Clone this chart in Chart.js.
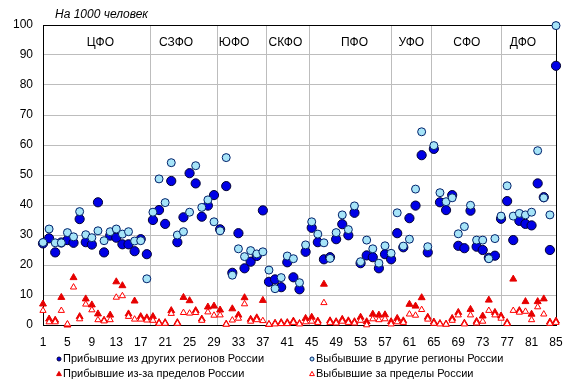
<!DOCTYPE html>
<html>
<head>
<meta charset="utf-8">
<script src="https://cdn.jsdelivr.net/npm/chart.js@4"></script>
<style>
  html, body { margin: 0; padding: 0; background: #fff; }
  #wrap { width: 574px; height: 387px; position: relative; }
</style>
</head>
<body>
<div id="wrap"><canvas id="myChart"></canvas></div>
<script>
// номера регионов по оси X: 1..85
const xTicks = [1, 5, 9, 13, 17, 21, 25, 29, 33, 37, 41, 45, 49, 53, 57, 61, 65, 69, 73, 77, 81, 85];
const yTicks = [0, 10, 20, 30, 40, 50, 60, 70, 80, 90, 100];

const arrivedRussia = [
  27.2, 28.9, 24.2, 27.5, 28.3, 27.4, 35.3, 27.6, 26.8, 40.9,
  24.2, 29.8, 29.1, 26.9, 26.9, 24.6, 28.6, 23.6, 35.0, 38.3,
  33.7, 48.0, 27.6, 35.9, 50.6, 47.2, 36.1, 39.8, 43.3, 31.9,
  46.3, 17.4, 30.6, 18.9, 21.1, 23.0, 38.2, 14.4, 15.2, 12.6,
  20.9, 15.9, 11.9, 24.4, 32.4, 27.6, 21.9, 22.6, 28.6, 33.6,
  29.9, 37.4, 20.6, 23.2, 22.6, 18.9, 23.6, 21.9, 30.6, 25.9,
  35.6, 39.8, 56.6, 24.2, 58.7, 40.9, 38.3, 43.3, 26.4, 25.6,
  38.1, 26.1, 25.0, 22.4, 23.1, 35.4, 41.3, 28.3, 34.7, 33.7,
  33.2, 47.2, 42.6, 25.0, 86.4
];
const leftRussia = [
  27.5, 32.0, 27.4, 27.4, 30.8, 29.4, 37.8, 30.1, 29.1, 31.4,
  28.1, 31.1, 32.0, 30.3, 31.1, 28.0, 28.1, 15.4, 37.6, 48.7,
  40.8, 54.1, 30.0, 31.1, 37.6, 53.1, 39.2, 41.7, 34.4, 31.4,
  55.8, 16.6, 25.4, 22.8, 24.8, 23.7, 24.4, 18.3, 12.1, 15.8,
  23.0, 22.1, 14.1, 26.7, 34.4, 30.3, 27.4, 22.2, 30.8, 36.7,
  31.8, 39.7, 21.1, 28.3, 25.4, 20.6, 26.4, 23.9, 37.4, 26.3,
  28.6, 45.3, 64.4, 26.1, 59.8, 44.1, 41.1, 42.4, 30.4, 32.8,
  39.9, 28.3, 28.3, 22.1, 28.8, 36.3, 46.4, 36.3, 37.2, 36.7,
  37.6, 58.1, 42.4, 36.7, 99.8
];
const arrivedAbroad = [
  7.0, 2.0, 1.6, 9.2, 0.0, 15.8, 2.8, 8.7, 6.7, 3.7,
  1.6, 3.3, 14.4, 13.1, 3.7, 8.0, 2.8, 2.4, 2.8, 0.8,
  0.8, 4.8, 0.8, 9.2, 8.1, 4.8, 2.0, 6.0, 6.3, 5.0,
  0.3, 5.4, 3.3, 9.1, 1.9, 2.4, 8.2, 0.2, 0.6, 0.8,
  0.8, 1.3, 0.5, 2.2, 2.6, 1.3, 13.6, 1.4, 1.1, 1.9,
  1.4, 1.1, 2.6, 1.1, 3.6, 3.3, 3.4, 1.1, 2.2, 1.4,
  6.9, 6.3, 9.1, 2.6, 1.0, 0.5, 0.3, 2.2, 4.2, 0.6,
  5.2, 1.2, 3.0, 8.3, 4.2, 3.0, 0.8, 15.3, 4.8, 7.8,
  3.6, 7.8, 8.7, 1.0, 1.3
];
const leftAbroad = [
  4.8, 1.0, 1.0, 4.8, 0.3, 12.6, 2.0, 6.9, 5.0, 1.7,
  1.3, 1.7, 9.2, 9.7, 2.8, 1.9, 1.9, 1.6, 1.5, 0.5,
  0.5, 3.8, 0.5, 4.1, 3.9, 4.1, 1.5, 4.3, 3.2, 3.3,
  0.2, 1.6, 2.2, 7.0, 1.2, 1.7, 1.4, 0.2, 0.3, 0.4,
  0.4, 0.8, 0.3, 1.0, 1.2, 0.8, 7.4, 0.8, 0.6, 1.2,
  0.8, 0.6, 1.5, 0.0, 2.0, 1.7, 2.0, 0.3, 1.0, 0.8,
  3.6, 3.2, 5.1, 1.9, 0.5, 0.3, 0.2, 1.5, 3.3, 0.3,
  3.3, 0.6, 1.2, 4.8, 3.3, 2.2, 0.4, 4.8, 4.2, 4.5,
  1.7, 6.0, 3.6, 0.5, 0.8
];

// федеральные округа: границы и подписи
const districtNames = ["ЦФО", "СЗФО", "ЮФО", "СКФО", "ПФО", "УФО", "СФО", "ДФО"];
const districtLabelX = [10.4, 22.8, 32.3, 40.7, 52.0, 61.3, 70.4, 79.6];
const districtBounds = [18.5, 29.5, 37.5, 44.5, 58, 64.5, 76];

const toPoints = arr => arr.map((v, i) => ({ x: i + 1, y: v }));

const FONT = '"Liberation Sans", Arial, sans-serif';

const extras = {
  id: "extras",
  beforeDatasetsDraw(chart) {
    const { ctx, chartArea: a, scales: { x, y } } = chart;
    ctx.save();
    ctx.strokeStyle = "#bdbdbd";
    ctx.lineWidth = 1;
    districtBounds.forEach(b => {
      const px = Math.round(x.getPixelForValue(b)) + 0.5;
      ctx.beginPath();
      ctx.moveTo(px, a.top);
      ctx.lineTo(px, a.bottom);
      ctx.stroke();
    });
    ctx.strokeStyle = "#000";
    ctx.strokeRect(Math.round(a.left) + 0.5, Math.round(a.top) + 0.5,
      Math.round(a.right - a.left), Math.round(a.bottom - a.top));
    ctx.fillStyle = "#000";
    ctx.font = "12px " + FONT;
    ctx.textAlign = "center";
    ctx.textBaseline = "middle";
    districtNames.forEach((n, i) => {
      ctx.fillText(n, x.getPixelForValue(districtLabelX[i]), y.getPixelForValue(94));
    });
    ctx.restore();
  },
  afterDraw(chart) {
    const { ctx } = chart;
    ctx.save();
    ctx.fillStyle = "#000";
    ctx.font = "italic 12px " + FONT;
    ctx.textAlign = "left";
    ctx.textBaseline = "middle";
    ctx.fillText("На 1000 человек", 55, 15);

    // легенда 2x2
    const cols = [59, 312], rows = [359, 374];
    const place = [[0, 0], [1, 0], [0, 1], [1, 1]];
    ctx.font = "11px " + FONT;
    chart.data.datasets.forEach((ds, i) => {
      const cx = cols[place[i][0]], cy = rows[place[i][1]];
      ctx.beginPath();
      if (ds.pointStyle === "triangle") {
        ctx.moveTo(cx, cy - 2.6);
        ctx.lineTo(cx + 2.4, cy + 1.6);
        ctx.lineTo(cx - 2.4, cy + 1.6);
        ctx.closePath();
      } else {
        ctx.arc(cx, cy, 2, 0, Math.PI * 2);
      }
      ctx.fillStyle = ds.backgroundColor;
      ctx.fill();
      ctx.strokeStyle = ds.borderColor;
      ctx.lineWidth = 1;
      ctx.stroke();
      ctx.fillStyle = "#000";
      ctx.fillText(ds.label, cx + 4, cy);
    });
    ctx.restore();
  }
};

new Chart(document.getElementById("myChart"), {
  type: "scatter",
  data: {
    datasets: [
      {
        label: "Прибывшие из других регионов России",
        data: toPoints(arrivedRussia),
        pointStyle: "circle",
        radius: 4.6,
        backgroundColor: "#0000e6",
        borderColor: "#000033",
        borderWidth: 1,
        order: 4,
        clip: false
      },
      {
        label: "Выбывшие в другие регионы России",
        data: toPoints(leftRussia),
        pointStyle: "circle",
        radius: 4,
        backgroundColor: "#a6e4f8",
        borderColor: "#00206a",
        borderWidth: 1,
        order: 3,
        clip: false
      },
      {
        label: "Прибывшие из-за пределов России",
        data: toPoints(arrivedAbroad),
        pointStyle: "triangle",
        radius: 4,
        backgroundColor: "#e60000",
        borderColor: "#e60000",
        borderWidth: 1,
        order: 2,
        clip: false
      },
      {
        label: "Выбывшие за пределы России",
        data: toPoints(leftAbroad),
        pointStyle: "triangle",
        radius: 3.6,
        backgroundColor: "#ffffff",
        borderColor: "#ff0000",
        borderWidth: 1,
        order: 1,
        clip: false
      }
    ]
  },
  options: {
    responsive: true,
    maintainAspectRatio: false,
    animation: false,
    layout: { padding: { top: 25, right: 18, bottom: 37, left: 0 } },
    plugins: {
      legend: { display: false },
      tooltip: { enabled: false }
    },
    scales: {
      x: {
        type: "linear",
        min: 1,
        max: 85,
        afterBuildTicks: s => { s.ticks = xTicks.map(v => ({ value: v })); },
        afterFit: s => { s.height = 25; },
        grid: { display: false },
        border: { color: "#000", width: 1 },
        ticks: { color: "#000", font: { family: FONT, size: 12 }, padding: 2, maxRotation: 0, autoSkip: false }
      },
      y: {
        min: 0,
        max: 100,
        afterBuildTicks: s => { s.ticks = yTicks.map(v => ({ value: v })); },
        afterFit: s => { s.width = 43; },
        grid: { color: "#bdbdbd", drawTicks: false },
        border: { color: "#000", width: 1 },
        ticks: { color: "#000", font: { family: FONT, size: 12 }, padding: 10 }
      }
    }
  },
  plugins: [extras]
});
</script>
</body>
</html>
